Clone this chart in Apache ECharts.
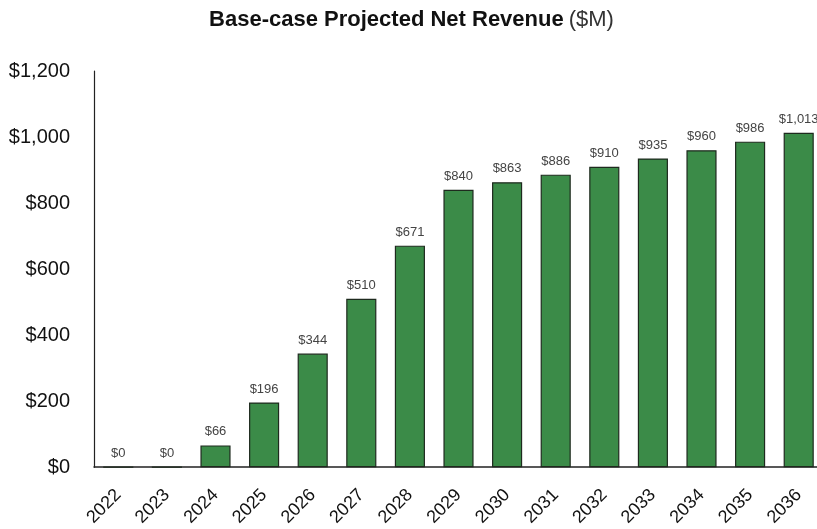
<!DOCTYPE html>
<html>
<head>
<meta charset="utf-8">
<script src="https://cdn.jsdelivr.net/npm/echarts@6/dist/echarts.min.js"></script>
<style>html,body{margin:0;padding:0;background:#fff;overflow:hidden;}#c{width:823px;height:529px;}</style>
</head>
<body>
<div id="c"></div>
<script>
var years = ['2022','2023','2024','2025','2026','2027','2028','2029','2030','2031','2032','2033','2034','2035','2036'];
var revenue = [0, 0, 66, 196, 344, 510, 671, 840, 863, 886, 910, 935, 960, 986, 1013];
var yTicks = [0, 200, 400, 600, 800, 1000, 1200];

function money(v){ return '$' + v.toLocaleString('en-US'); }

var chart = echarts.init(document.getElementById('c'));
chart.setOption({
  animation: false,
  title: {
    text: '{b|Base-case Projected Net Revenue} {n|($M)}',
    left: 'center',
    top: 4,
    textStyle: {
      rich: {
        b: {fontFamily: 'Liberation Sans', fontWeight: 'bold', fontSize: 22, color: '#111'},
        n: {fontFamily: 'Liberation Sans', fontWeight: 'normal', fontSize: 22, color: '#333'}
      }
    }
  },
  grid: {left: 94, right: 0, top: 71, bottom: 61, containLabel: false},
  xAxis: {
    type: 'category',
    data: years,
    axisLine: {lineStyle: {color: '#222', width: 1.5}},
    axisTick: {show: false},
    axisLabel: {rotate: 45, fontFamily: 'Liberation Sans', fontSize: 18, color: '#111', margin: 25, interval: 0}
  },
  yAxis: {
    type: 'value',
    min: 0, max: 1200, interval: 200,
    axisLine: {show: true, lineStyle: {color: '#222', width: 1.2}},
    axisTick: {show: false},
    splitLine: {show: false},
    axisLabel: {fontFamily: 'Liberation Sans', fontSize: 20, color: '#111', margin: 24,
      formatter: function(v){ return money(v); }}
  },
  series: [{
    type: 'bar',
    data: revenue,
    barWidth: '62%',
    itemStyle: {color: '#3b8b48', borderColor: '#1e2a1e', borderWidth: 1.2},
    label: {show: true, position: 'top', distance: 7, fontFamily: 'Liberation Sans', fontSize: 13, color: '#444',
      formatter: function(p){ return money(p.value); }}
  }]
});
</script>
</body>
</html>
